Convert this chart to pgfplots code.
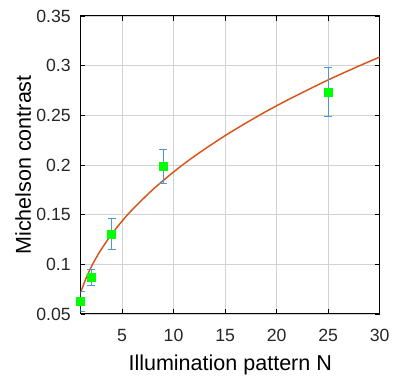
\documentclass[border=0pt]{standalone}
\usepackage{pgfplots}
\pgfplotsset{compat=1.18}
\usepackage{fontspec}
\setmainfont{Liberation Sans}
\definecolor{mlorange}{rgb}{0.85,0.325,0.098}
\definecolor{mlblue}{rgb}{0.30,0.60,0.85}
\definecolor{mlgreen}{rgb}{0,1,0}
\begin{document}
\begin{tikzpicture}
\begin{axis}[
  scale only axis,
  width=225pt, height=224.25pt,
  xmin=1, xmax=30, ymin=0.05, ymax=0.35,
  xtick={5,10,...,30},
  ytick={0.05,0.1,...,0.35},
  yticklabels={0.05,0.1,0.15,0.2,0.25,0.3,0.35},
  grid=major,
  major grid style={gray!35, line width=0.6pt},
  tick align=inside,
  major tick length=3.5pt,
  tick style={black, line width=0.6pt},
  axis line style={black, line width=0.75pt},
  /pgf/number format/assume math mode=true,
  ticklabel style={font=\fontsize{13.3}{15}\selectfont, text=black!85},
  xticklabel style={yshift=-8pt},
  yticklabel style={xshift=-4pt},
  xlabel={Illumination pattern N},
  ylabel={Michelson contrast},
  label style={font=\fontsize{16.2}{19}\selectfont},
  xlabel style={yshift=-3pt},
  ylabel style={yshift=-3pt},
]
\addplot[mlorange, line width=1.1pt, smooth] coordinates {
 (1,0.072) (1.5,0.0856) (2,0.0969) (2.5,0.1066) (3,0.1152) (4,0.1303) (5,0.1434)
 (6,0.155) (8,0.1753) (10,0.1929) (12,0.2086) (15,0.2295) (18,0.2481)
 (20,0.2596) (22,0.2703) (25,0.2856) (28,0.2997) (30,0.3086)
};
\addplot[only marks, mark=square*, mark size=3pt,
  mark options={draw=mlgreen, fill=mlgreen},
  error bars/.cd, y dir=both, y explicit,
  error bar style={mlblue, line width=0.6pt},
  error mark options={mlblue, rotate=90, mark size=3pt, line width=0.6pt}]
  coordinates {
 (1,0.0624) +- (0,0.0100)
 (2,0.0866) +- (0,0.0081)
 (4,0.1305) +- (0,0.0160)
 (9,0.1985) +- (0,0.0170)
 (25,0.2735) +- (0,0.0250)
};
\end{axis}
\useasboundingbox ([xshift=-60.75pt,yshift=-47.25pt]current axis.south west)
  rectangle ([xshift=9.75pt,yshift=12pt]current axis.north east);
\end{tikzpicture}
\end{document}
